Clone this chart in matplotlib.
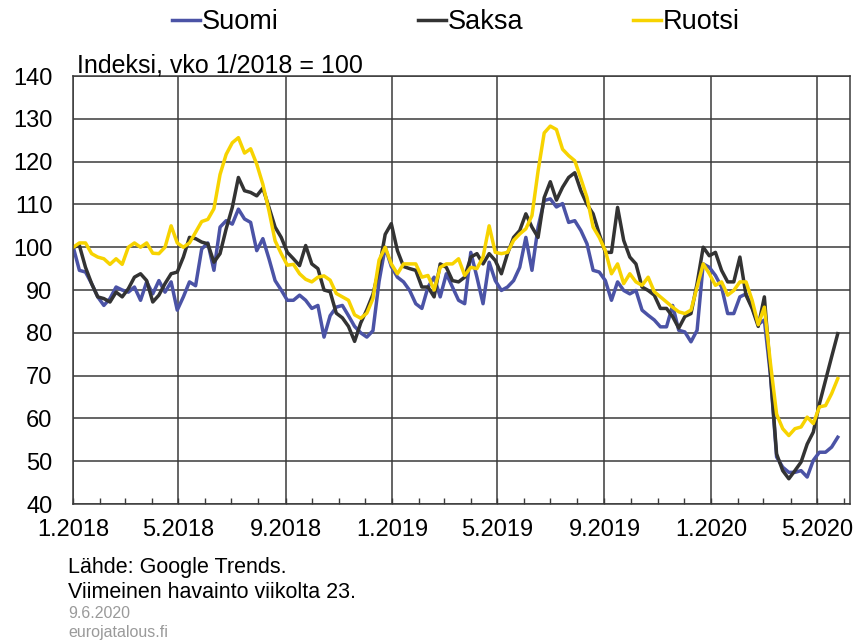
import datetime as dt
import matplotlib
matplotlib.use('Agg')
import matplotlib.pyplot as plt
import matplotlib.dates as mdates

plt.rcParams['font.family'] = ['Liberation Sans', 'DejaVu Sans']

# weekly Google Trends index, week 1/2018 = 100
start = dt.date(2018, 1, 1)

suomi = [100, 94.6, 94.2, 91.5, 88.4, 86.4, 88, 90.7, 90, 89.5,
         90.7, 87.6, 91.9, 89.1, 92.2, 89.5, 91.9, 85.3, 88.4, 91.9,
         91, 99.6, 101, 94.6, 104.7, 106.2, 105.4, 108.9, 106.6, 105.8,
         99.2, 102, 97.3, 92.2, 90, 87.6, 87.6, 88.8, 87.6, 85.7,
         86.4, 79, 84, 86, 86.4, 84, 81.5, 80, 79, 80.5,
         92, 100, 95.5, 93, 91.9, 89.9, 86.8, 85.7, 90.7, 93,
         88.4, 93.8, 90.7, 87.6, 86.8, 98.8, 93, 86.8, 96.5, 92.2,
         89.9, 90.7, 92.2, 95.3, 102.3, 94.6, 104.7, 110.9, 111.3, 109.4,
         110.2, 105.8, 106.2, 103.9, 100.8, 94.6, 94.2, 92.2, 87.6, 91.9,
         89.9, 89.1, 89.9, 85.3, 84.1, 83, 81.4, 81.4, 86.4, 80.6,
         80.2, 77.9, 80.6, 96.1, 95.3, 93.4, 90.7, 84.5, 84.5, 88.4,
         89.1, 86, 82, 83, 70, 51, 48.6, 47.4, 47.4, 47.8,
         46.3, 50.2, 52.1, 52.1, 53.3, 55.6]

saksa = [100, 100.4, 95.3, 91.5, 88.4, 88, 87.2, 89.5, 88.4, 90.3,
         93, 93.8, 92.2, 87.2, 88.8, 91.5, 93.8, 94.2, 97.7, 102.3,
         102, 101.2, 100.8, 96.5, 98.5, 104.3, 109.3, 116.3, 113.2, 112.8,
         112, 113.8, 109.3, 104.7, 102.3, 98.8, 97.3, 95.7, 100.4, 96.1,
         95, 90, 89.6, 84.6, 83.5, 81.5, 78, 82.3, 85.4, 89,
         95, 103, 105.5, 99.2, 95.5, 95, 94.6, 90.7, 90.7, 88.4,
         96.1, 95.3, 92.2, 91.9, 93, 97.7, 98.5, 96.1, 98.5, 96.9,
         93.8, 98.5, 102.3, 103.9, 107.8, 104.7, 102.3, 111.6, 115.3, 111,
         114, 116.3, 117.4, 113.2, 110, 107.8, 103.1, 98.8, 98.8, 109.3,
         101.6, 97.7, 96.1, 90.7, 89.9, 88.8, 85.7, 85.7, 83.8, 81.1,
         83.8, 84.5, 91.5, 100, 98, 98.8, 94.6, 91.9, 91.9, 97.7,
         88.8, 85.7, 81.5, 88.4, 70.5, 51.7, 47.8, 45.9, 47.8, 49.8,
         54, 56.8, 63.4, 68.9, 74.4, 79.8]

ruotsi = [100, 101, 101, 98.5, 97.7, 97.3, 96, 97.3, 96, 100,
          101, 100, 101, 98.6, 98.5, 100, 105, 101, 100, 101,
          103.5, 106, 106.5, 109, 117, 121.7, 124.4, 125.6, 122, 123,
          119.4, 114.7, 108.5, 101.5, 98.5, 95.8, 96, 93.8, 92.5, 91.9,
          93, 93.3, 92.3, 89.2, 88.4, 87.6, 84.2, 83.4, 84.6, 88,
          97, 100, 96.1, 93.8, 96.1, 96.1, 96.1, 93, 93.4, 90,
          95.3, 96.1, 96.1, 97.3, 93.4, 95.3, 95, 97.7, 105, 98.8,
          98.5, 98.8, 101.6, 103.1, 104.3, 107.4, 117.8, 126.7, 128.3, 127.5,
          122.9, 121.4, 120.2, 116, 111.6, 104.7, 102.3, 99.2, 93.8, 96.1,
          91.5, 93.8, 91.9, 91.1, 93, 89.6, 88.4, 87.2, 86, 84.9,
          84.5, 85.3, 90.7, 96.1, 93.8, 91.1, 91.9, 88.8, 89.9, 91.9,
          91.9, 87.6, 81.9, 86, 72.8, 61, 57.6, 56, 57.6, 58,
          60.3, 58.8, 62.7, 63, 65.8, 69.3]

weeks = [start + dt.timedelta(days=7 * i) for i in range(len(suomi))]

series = [('Suomi', suomi, '#4b53a6'),
          ('Saksa', saksa, '#333333'),
          ('Ruotsi', ruotsi, '#f7d300')]

fig = plt.figure(figsize=(8.54, 6.41), dpi=100)
ax = fig.add_axes([0.0858, 0.2137, 0.9095, 0.6677])

lines = []
for name, vals, col in series:
    ln, = ax.plot(weeks, vals, color=col, lw=2.5, label=name, solid_joinstyle='round')
    lines.append(ln)

ax.set_ylim(40, 140)
ax.set_yticks(range(40, 141, 10))
ax.set_xlim(dt.date(2018, 1, 1), dt.date(2020, 6, 8))

ax.xaxis.set_major_locator(mdates.MonthLocator(bymonth=[1, 5, 9]))
ax.xaxis.set_minor_locator(mdates.MonthLocator())
ax.xaxis.set_major_formatter(mdates.DateFormatter('%-m.%Y'))

ax.grid(True, which='major', color='#3a3a3a', lw=1.1)
ax.set_axisbelow(True)
for s in ax.spines.values():
    s.set_color('#3a3a3a')
    s.set_linewidth(1.1)

ax.tick_params(axis='y', length=0, pad=15, labelsize=17)
ax.tick_params(axis='x', which='both', direction='in', length=4, width=1,
               color='#3a3a3a', pad=11, labelsize=17)

fig.text(0.0902, 1 - 72 / 641, 'Indeksi, vko 1/2018 = 100', fontsize=18,
         va='baseline', ha='left')

# legend entries sit at fixed spots across the top, one legend each
legend_x = [172, 418, 633]
for ln, lx in zip(lines, legend_x):
    fig.legend(handles=[ln], loc='center left', bbox_to_anchor=(lx / 854, 1 - 22 / 641),
               frameon=False, handlelength=1.05, handletextpad=0.05,
               borderpad=0, borderaxespad=0, fontsize=19.5)

fig.text(68 / 854, 1 - 567 / 641, 'Lähde: Google Trends.', fontsize=15.5, va='center')
fig.text(68 / 854, 1 - 592 / 641, 'Viimeinen havainto viikolta 23.', fontsize=15.5, va='center')
fig.text(68 / 854, 1 - 613 / 641, '9.6.2020', fontsize=11.5, color='#9a9a9a', va='center')
fig.text(68 / 854, 1 - 632 / 641, 'eurojatalous.fi', fontsize=11.5, color='#9a9a9a', va='center')

fig.savefig('out.png', dpi=100)
